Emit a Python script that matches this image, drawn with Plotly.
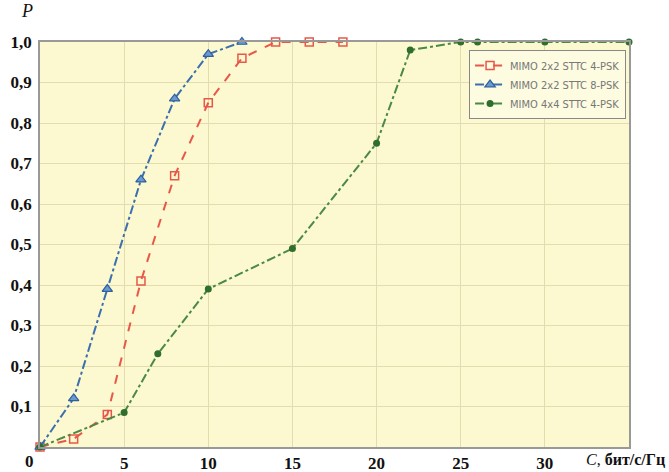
import plotly.graph_objects as go

# Data
red_x = [0, 2, 4, 6, 8, 10, 12, 14, 16, 18]
red_y = [0.0, 0.02, 0.08, 0.41, 0.67, 0.85, 0.96, 1.0, 1.0, 1.0]
blue_x = [0, 2, 4, 6, 8, 10, 12]
blue_y = [0.0, 0.12, 0.39, 0.66, 0.86, 0.97, 1.0]
green_x = [0, 5, 7, 10, 15, 20, 22, 25, 26, 30, 35]
green_y = [0.0, 0.085, 0.23, 0.39, 0.49, 0.75, 0.98, 1.0, 1.0, 1.0, 1.0]
names = ["MIMO 2x2 STTC 4-PSK", "MIMO 2x2 STTC 8-PSK", "MIMO 4x4 STTC 4-PSK"]
x_ticks = [0, 5, 10, 15, 20, 25, 30]
y_ticks = [0.1, 0.2, 0.3, 0.4, 0.5, 0.6, 0.7, 0.8, 0.9, 1.0]
y_labels = ["0,1", "0,2", "0,3", "0,4", "0,5", "0,6", "0,7", "0,8", "0,9", "1,0"]

fig = go.Figure()
fig.add_trace(go.Scatter(
    x=red_x, y=red_y, name=names[0], mode="lines+markers",
    line=dict(color="#e8584a", width=2, dash="dash"),
    marker=dict(symbol="square-open", size=8, color="#e8584a", line=dict(width=1.5)),
    cliponaxis=False))
fig.add_trace(go.Scatter(
    x=blue_x, y=blue_y, name=names[1], mode="lines+markers",
    line=dict(color="#3b6fae", width=2, dash="dashdot"),
    marker=dict(symbol="triangle-up", size=9, color="#6a9ad0", line=dict(width=1.2, color="#2f5f9e")),
    cliponaxis=False))
fig.add_trace(go.Scatter(
    x=green_x, y=green_y, name=names[2], mode="lines+markers",
    line=dict(color="#4a8a45", width=2, dash="dashdot"),
    marker=dict(symbol="circle", size=7, color="#2f6e2c"),
    cliponaxis=False))

tickfont = dict(family="Liberation Serif", size=17, color="#111")

fig.update_layout(
    width=669, height=472,
    margin=dict(l=40, r=40, t=42, b=25),
    paper_bgcolor="white",
    plot_bgcolor="#fcf8cf",
    showlegend=True,
    legend=dict(x=0.995, y=0.98, xanchor="right", yanchor="top",
                bgcolor="#fdfbe0", bordercolor="#888", borderwidth=1,
                font=dict(family="Liberation Sans Narrow, DejaVu Sans Condensed", size=11, color="#777"),
                tracegroupgap=0, itemwidth=30),
    xaxis=dict(range=[0, 35], tickvals=x_ticks[1:], ticktext=["<b>%d</b>" % v for v in x_ticks[1:]],
               showgrid=True, gridcolor="#e2dcae", gridwidth=1,
               showline=True, linecolor="#999", linewidth=1.5, mirror=True,
               ticks="", zeroline=False, tickfont=tickfont, automargin=False),
    yaxis=dict(range=[0, 1], tickvals=y_ticks, ticktext=["<b>%s</b>" % s for s in y_labels],
               showgrid=True, gridcolor="#e2dcae", gridwidth=1,
               showline=True, linecolor="#999", linewidth=1.5, mirror=True,
               ticks="", zeroline=False, tickfont=tickfont, automargin=False, ticklabelstandoff=3),
)

fig.add_annotation(x=0, y=0, xref="x", yref="y", text="<b>0</b>", showarrow=False,
                   xshift=-11, yshift=-14, font=tickfont)
fig.add_annotation(x=0, y=1, xref="paper", yref="paper", text="<i>P</i>", showarrow=False,
                   xanchor="center", yanchor="bottom",
                   xshift=-13, yshift=19, font=dict(family="Liberation Serif", size=18, color="#111"))
fig.add_annotation(x=1, y=0, xref="paper", yref="paper",
                   text="<i>C</i>, <b>бит/с/Гц</b>", showarrow=False, xanchor="right", yanchor="top",
                   xshift=38, yshift=-2, font=dict(family="Liberation Serif", size=16, color="#111"))

fig.write_html("out.html", config={"displayModeBar": False},
               post_script="document.body.style.margin='0';")
